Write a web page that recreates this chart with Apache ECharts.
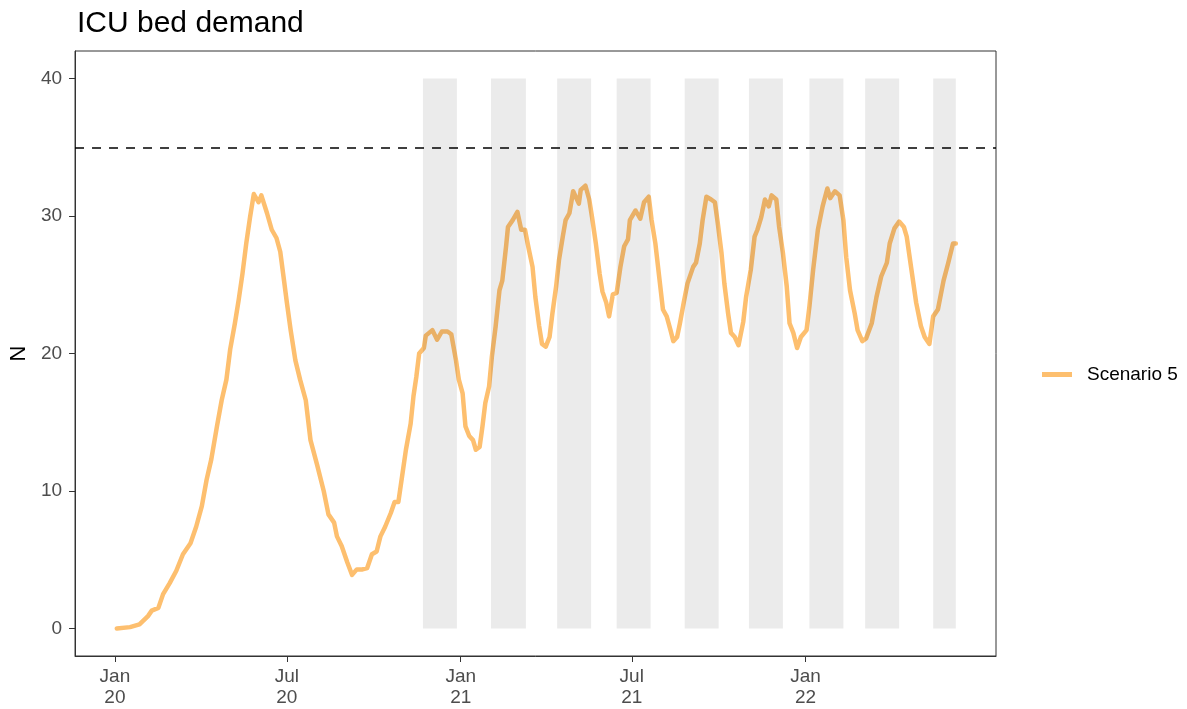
<!DOCTYPE html>
<html>
<head>
<meta charset="utf-8">
<script src="https://cdn.jsdelivr.net/npm/echarts@6/dist/echarts.min.js"></script>
<style>
html,body{margin:0;padding:0;background:#fff;}
#chart{width:1187px;height:709px;}
</style>
</head>
<body>
<div id="chart"></div>
<script>
// ---- data ----
const startDate = "2020-01-01";           // day 0 of the series
const seriesName = "Scenario 5";
const chartTitle = "ICU bed demand";
const yName = "N";
const threshold = 35;

// days since startDate
const days = [2,16,26,35,39,46,51,58,65,72,80,86,92,97,102,108,113,118,122,127,131,135,139,143,147,152,155,161,166,171,175,179,182,186,191,196,202,207,214,221,226,232,235,240,246,251,256,262,267,272,277,281,286,292,296,300,304,308,313,316,319,322,327,329,336,341,346,352,356,361,364,368,371,375,379,382,386,389,392,396,399,403,407,410,414,416,421,426,430,434,438,442,445,449,452,456,460,463,467,470,474,477,481,485,491,493,498,502,505,509,513,516,520,523,527,531,535,539,543,545,551,556,560,565,568,572,576,580,584,588,591,595,598,602,606,612,615,619,622,626,631,635,638,642,645,649,652,656,660,665,668,673,677,680,684,688,692,695,700,703,707,711,714,718,722,726,732,735,739,744,749,754,757,762,767,771,774,778,783,786,791,795,801,806,811,817,820,825,830,835,838,843,848,853,857,862,866,871,877,882,887,890];
const icuBeds = [0.0,0.1,0.3,0.9,1.3,1.5,2.5,3.3,4.2,5.4,6.2,7.4,8.9,10.8,12.3,14.7,16.6,18.1,20.3,22.2,23.9,25.8,28.0,29.9,31.6,31.0,31.5,30.2,29.0,28.4,27.4,25.3,23.7,21.7,19.5,18.1,16.6,13.7,11.9,10.0,8.3,7.7,6.7,6.0,4.8,3.9,4.3,4.3,4.4,5.4,5.6,6.7,7.4,8.4,9.2,9.2,11.1,13.0,14.9,16.9,18.3,20.0,20.4,21.3,21.7,21.0,21.6,21.6,21.4,19.5,18.1,17.1,14.7,14.0,13.7,13.0,13.2,14.7,16.4,17.6,19.8,22.0,24.6,25.3,27.8,29.2,29.7,30.3,29.0,29.0,27.6,26.3,24.1,22.0,20.7,20.5,21.2,22.9,24.9,26.8,28.5,29.7,30.2,31.8,30.9,31.9,32.2,31.2,29.9,28.0,25.8,24.5,23.7,22.7,24.3,24.4,26.3,27.8,28.3,29.7,30.4,29.8,31.0,31.4,29.7,28.0,25.6,23.2,22.7,21.7,20.9,21.2,22.2,23.7,25.1,26.3,26.6,28.0,29.7,31.4,31.2,31.0,29.5,27.3,25.1,22.9,21.5,21.2,20.6,22.3,24.1,26.1,28.5,29.0,29.9,31.2,30.7,31.5,31.2,29.2,27.3,24.9,22.2,21.5,20.4,21.2,21.7,23.4,26.1,29.0,30.7,32.0,31.3,31.8,31.5,29.7,27.0,24.6,22.9,21.7,20.9,21.1,22.2,24.1,25.6,26.6,28.0,29.1,29.6,29.2,28.5,26.1,23.7,22.0,21.2,20.7,22.7,23.2,25.3,26.6,28.0,28.0];

// shaded periods (start / end dates)
const periodStart = ["2020-11-22","2021-02-02","2021-04-13","2021-06-15","2021-08-26","2021-11-02","2022-01-05","2022-03-05","2022-05-16"];
const periodEnd   = ["2020-12-28","2021-03-11","2021-05-19","2021-07-21","2021-10-01","2021-12-08","2022-02-10","2022-04-10","2022-06-09"];
const periodTop = 40;

// axis ticks
const xTickDates  = ["2020-01-01","2020-07-01","2021-01-01","2021-07-01","2022-01-01"];
const xTickLabels = ["Jan\n20","Jul\n20","Jan\n21","Jul\n21","Jan\n22"];
const yTicks = [0,10,20,30,40];

// ---- build ----
const DAY = 86400000;
const t0 = Date.parse(startDate + "T00:00:00Z");
const toDay = s => Math.round((Date.parse(s + "T00:00:00Z") - t0) / DAY);

const lineData = days.map((d, i) => [d, icuBeds[i]]);
const rectData = periodStart.map((s, i) => [toDay(s), toDay(periodEnd[i])]);
const xTickDays = xTickDates.map(toDay);
const labelMap = {};
xTickDays.forEach((d, i) => { labelMap[d] = xTickLabels[i]; });

const FONT = "'Liberation Sans', Arial, sans-serif";
const chart = echarts.init(document.getElementById('chart'), null, {renderer: 'canvas'});

chart.setOption({
  animation: false,
  backgroundColor: '#ffffff',
  title: {
    text: chartTitle,
    left: 72, top: 4,
    textStyle: {fontFamily: FONT, fontSize: 30, fontWeight: 'normal', color: '#000'}
  },
  grid: {
    left: 75, right: 191, top: 51, bottom: 53,
    show: true, borderColor: '#333333', borderWidth: 1, backgroundColor: 'transparent'
  },
  legend: {
    data: [seriesName],
    orient: 'vertical',
    left: 1037, top: 360,
    itemWidth: 30, itemHeight: 5,
    icon: 'rect',
    textStyle: {fontFamily: FONT, fontSize: 19, color: '#000', padding: [0, 0, 0, 10]},
    itemStyle: {color: '#FDBF6F'}
  },
  xAxis: {
    type: 'value',
    min: -42.2, max: 932.5,
    splitLine: {show: false},
    axisLine: {show: true, onZero: false, lineStyle: {color: '#333333', width: 1}},
    axisTick: {show: true, length: 6, customValues: xTickDays, lineStyle: {color: '#333333', width: 1}},
    axisLabel: {
      customValues: xTickDays,
      formatter: v => labelMap[Math.round(v)] || '',
      fontFamily: FONT, fontSize: 19, color: '#4d4d4d', lineHeight: 21, margin: 10
    }
  },
  yAxis: {
    type: 'value',
    min: -2, max: 42,
    name: yName,
    nameLocation: 'middle',
    nameRotate: 90,
    nameGap: 45,
    nameTextStyle: {fontFamily: FONT, fontSize: 22, color: '#000'},
    splitLine: {show: false},
    axisLine: {show: true, onZero: false, lineStyle: {color: '#333333', width: 1}},
    axisTick: {show: true, length: 6, customValues: yTicks, lineStyle: {color: '#333333', width: 1}},
    axisLabel: {customValues: yTicks, fontFamily: FONT, fontSize: 19, color: '#4d4d4d', margin: 13}
  },
  series: [
    {
      name: seriesName,
      type: 'line',
      z: 2,
      data: lineData,
      showSymbol: false,
      symbol: 'none',
      lineStyle: {color: '#FDBF6F', width: 4.5, join: 'round', cap: 'round'},
      itemStyle: {color: '#FDBF6F'},
      markLine: {
        silent: true,
        symbol: 'none',
        label: {show: false},
        lineStyle: {color: '#000', type: [9, 8], width: 1.7},
        data: [{yAxis: threshold}]
      }
    },
    {
      name: 'periods',
      type: 'custom',
      z: 3,
      silent: true,
      data: rectData,
      encode: {x: [0, 1]},
      renderItem: function (params, api) {
        const p1 = api.coord([api.value(0), periodTop]);
        const p2 = api.coord([api.value(1), 0]);
        return {
          type: 'rect',
          shape: {x: p1[0], y: p1[1], width: p2[0] - p1[0], height: p2[1] - p1[1]},
          style: {fill: 'rgba(0,0,0,0.08)'}
        };
      }
    }
  ]
});
</script>
</body>
</html>
